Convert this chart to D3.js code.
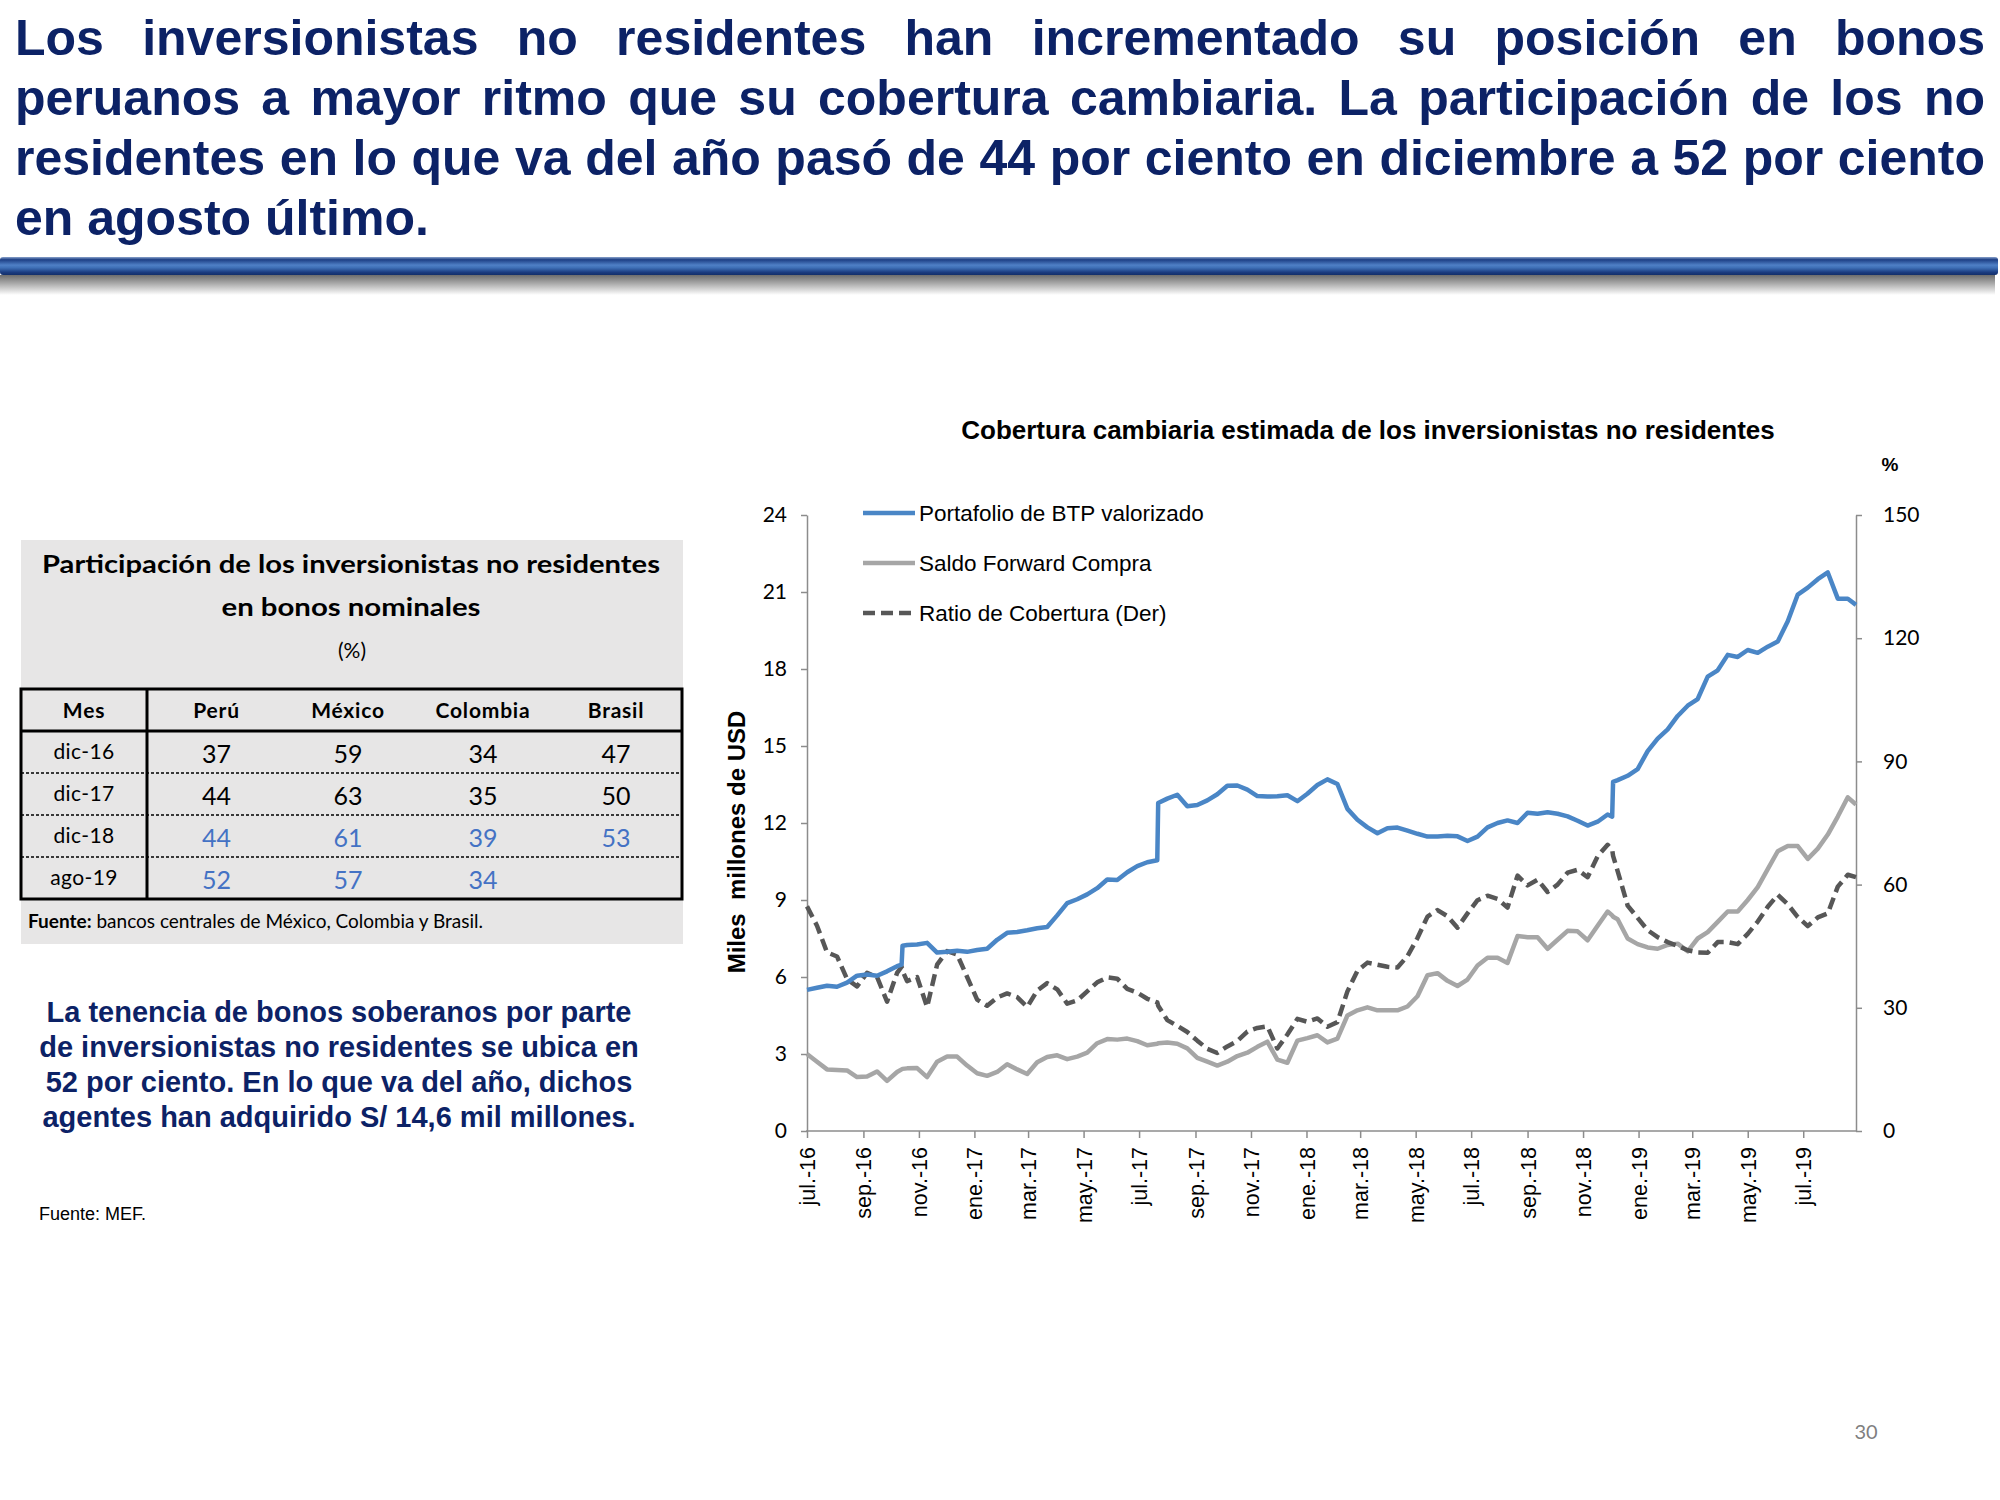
<!DOCTYPE html>
<html><head><meta charset="utf-8">
<script src="https://cdn.jsdelivr.net/npm/d3@7"></script>
<style>body{margin:0;background:#fff} svg{display:block}</style>
</head><body>
<script>
// ---------- DATA ----------
const headerLines = [
  "Los inversionistas no residentes han incrementado su posición en bonos",
  "peruanos a mayor ritmo que su cobertura cambiaria. La participación de los no",
  "residentes en lo que va del año pasó de 44 por ciento en diciembre a 52 por ciento",
  "en agosto último."
];
const noteLines = [
  "La tenencia de bonos soberanos por parte",
  "de inversionistas no residentes se ubica en",
  "52 por ciento. En lo que va del año, dichos",
  "agentes han adquirido S/ 14,6 mil millones."
];
const tableTitle = ["Participación de los inversionistas no residentes", "en bonos nominales", "(%)"];
const tableCols = ["Mes", "Perú", "México", "Colombia", "Brasil"];
const tableRows = ["dic-16", "dic-17", "dic-18", "ago-19"];
const peru = [37, 44, 44, 52];
const mexico = [59, 63, 61, 57];
const colombia = [34, 35, 39, 34];
const brasil = [47, 50, 53, null];
const projectedRows = [false, false, true, true];

const chartTitle = "Cobertura cambiaria estimada de los inversionistas no residentes";
const seriesNames = ["Portafolio de BTP valorizado", "Saldo Forward Compra", "Ratio de Cobertura (Der)"];
const leftTicks = [0, 3, 6, 9, 12, 15, 18, 21, 24];
const rightTicks = [0, 30, 60, 90, 120, 150];
const tickDates = ["2016-07-01","2016-09-01","2016-11-01","2017-01-01","2017-03-01","2017-05-01","2017-07-01","2017-09-01","2017-11-01","2018-01-01","2018-03-01","2018-05-01","2018-07-01","2018-09-01","2018-11-01","2019-01-01","2019-03-01","2019-05-01","2019-07-01"];
const tickLabels = ["jul.-16","sep.-16","nov.-16","ene.-17","mar.-17","may.-17","jul.-17","sep.-17","nov.-17","ene.-18","mar.-18","may.-18","jul.-18","sep.-18","nov.-18","ene.-19","mar.-19","may.-19","jul.-19"];

const dates = [
"2016-07-01","2016-07-12","2016-07-23","2016-08-03","2016-08-14","2016-08-25","2016-09-05","2016-09-16","2016-09-27","2016-10-08","2016-10-13","2016-10-14","2016-10-19","2016-10-30","2016-11-10","2016-11-21","2016-12-02","2016-12-13","2016-12-24",
"2017-01-04","2017-01-15","2017-01-26","2017-02-06","2017-02-17","2017-02-28","2017-03-11","2017-03-22","2017-04-02","2017-04-13","2017-04-24","2017-05-05","2017-05-16","2017-05-27","2017-06-07","2017-06-18","2017-06-29","2017-07-10","2017-07-21","2017-07-22","2017-08-01","2017-08-12","2017-08-23","2017-09-03","2017-09-14","2017-09-25","2017-10-06","2017-10-17","2017-10-28","2017-11-08","2017-11-19","2017-11-30","2017-12-11","2017-12-22",
"2018-01-02","2018-01-13","2018-01-24","2018-02-04","2018-02-15","2018-02-26","2018-03-09","2018-03-20","2018-03-31","2018-04-11","2018-04-22","2018-05-03","2018-05-14","2018-05-25","2018-06-05","2018-06-16","2018-06-27","2018-07-08","2018-07-19","2018-07-30","2018-08-10","2018-08-21","2018-09-01","2018-09-12","2018-09-23","2018-10-04","2018-10-15","2018-10-26","2018-11-06","2018-11-17","2018-11-28","2018-12-03","2018-12-04","2018-12-09","2018-12-20","2018-12-31",
"2019-01-11","2019-01-22","2019-02-02","2019-02-13","2019-02-24","2019-03-07","2019-03-18","2019-03-29","2019-04-09","2019-04-20","2019-05-01","2019-05-12","2019-05-23","2019-06-03","2019-06-14","2019-06-25","2019-07-06","2019-07-17","2019-07-28","2019-08-08","2019-08-19","2019-08-28"];

const portafolioBTP = [
5.50,5.58,5.66,5.62,5.78,6.05,6.10,6.05,6.22,6.42,6.48,7.22,7.25,7.27,7.33,6.95,6.98,7.02,6.98,
7.05,7.10,7.45,7.72,7.75,7.82,7.90,7.95,8.40,8.88,9.03,9.22,9.46,9.80,9.78,10.08,10.32,10.47,10.55,12.78,12.95,13.10,12.65,12.70,12.88,13.12,13.45,13.46,13.30,13.05,13.03,13.04,13.08,12.85,
13.14,13.48,13.70,13.52,12.55,12.13,11.83,11.60,11.80,11.82,11.70,11.58,11.47,11.47,11.50,11.48,11.30,11.47,11.83,12.00,12.10,12.00,12.40,12.36,12.42,12.36,12.26,12.09,11.90,12.05,12.33,12.25,13.60,13.67,13.84,14.10,
14.80,15.29,15.65,16.17,16.57,16.83,17.70,17.95,18.55,18.47,18.74,18.63,18.87,19.07,19.86,20.90,21.17,21.50,21.76,20.74,20.74,20.50];

const saldoForward = [
3.00,2.70,2.40,2.38,2.36,2.10,2.12,2.32,1.95,2.30,2.40,2.42,2.44,2.45,2.10,2.70,2.90,2.90,2.55,
2.25,2.15,2.30,2.60,2.40,2.22,2.68,2.88,2.95,2.80,2.90,3.05,3.42,3.58,3.56,3.60,3.50,3.34,3.40,3.42,3.45,3.40,3.22,2.85,2.70,2.55,2.70,2.92,3.05,3.28,3.48,2.78,2.66,3.52,
3.62,3.73,3.45,3.60,4.50,4.70,4.82,4.70,4.70,4.70,4.85,5.25,6.07,6.15,5.85,5.65,5.90,6.45,6.75,6.75,6.55,7.60,7.55,7.55,7.10,7.45,7.80,7.78,7.43,8.00,8.55,8.40,8.35,8.25,7.50,7.28,
7.15,7.10,7.25,7.30,7.00,7.50,7.75,8.15,8.55,8.55,9.00,9.50,10.20,10.90,11.10,11.10,10.60,11.00,11.55,12.25,13.00,12.72];

const ratioCobertura = [
54.7,50.0,43.5,42.5,37.0,35.2,38.5,37.5,31.5,38.5,40.0,39.0,36.5,37.5,30.2,40.5,43.8,43.0,37.5,
32.0,30.5,32.5,33.5,32.6,30.2,34.2,36.0,34.5,31.0,31.8,34.0,36.2,37.4,37.1,34.6,33.7,32.2,31.3,30.5,27.0,25.6,24.1,22.0,20.0,19.0,20.6,21.9,24.2,25.1,25.5,20.1,23.5,27.3,
26.6,27.4,25.4,26.5,34.0,39.0,41.0,40.5,40.0,39.8,42.6,47.0,52.2,53.8,52.3,49.5,53.0,56.2,57.3,56.5,54.4,62.2,59.8,61.2,58.2,60.0,62.9,63.6,61.8,66.9,69.7,68.5,67.0,63.3,54.9,51.9,
48.9,47.2,46.0,45.1,44.0,43.5,43.4,46.0,46.0,45.5,48.0,51.0,54.6,57.5,55.2,52.1,49.9,52.0,53.0,59.5,62.4,61.8];

// ---------- STYLE ----------
const NAVY = "#0c2266";
const ARIAL = "'Liberation Sans', Arial, sans-serif";
const CAL = "Lato, 'Open Sans', sans-serif";
const parse = d3.timeParse("%Y-%m-%d");

const svg = d3.select("body").append("svg").attr("width", 2000).attr("height", 1500);
const defs = svg.append("defs");

// ---------- HEADER ----------
headerLines.forEach((line, i) => {
  const y = 55 + i * 60;
  if (i < headerLines.length - 1) {
    const words = line.split(" ");
    const g = svg.append("g");
    const nodes = words.map(w => g.append("text").attr("y", y)
      .attr("font-family", ARIAL).attr("font-size", 50).attr("font-weight", "bold")
      .attr("fill", NAVY).text(w));
    const widths = nodes.map(n => n.node().getComputedTextLength());
    const gap = (1970 - d3.sum(widths)) / (words.length - 1);
    let x = 15;
    nodes.forEach((n, j) => { n.attr("x", x); x += widths[j] + gap; });
  } else {
    svg.append("text").attr("x", 15).attr("y", y)
      .attr("font-family", ARIAL).attr("font-size", 50).attr("font-weight", "bold")
      .attr("fill", NAVY).text(line);
  }
});

const barG = defs.append("linearGradient").attr("id", "barGrad").attr("x1", 0).attr("y1", 0).attr("x2", 0).attr("y2", 1);
[["0%", "#8aa3cc"], ["15%", "#1d3f85"], ["45%", "#4f80c6"], ["60%", "#3e6fb6"], ["85%", "#1b3c80"], ["100%", "#132f6a"]]
  .forEach(s => barG.append("stop").attr("offset", s[0]).attr("stop-color", s[1]));
const shG = defs.append("linearGradient").attr("id", "shGrad").attr("x1", 0).attr("y1", 0).attr("x2", 0).attr("y2", 1);
[["0%", "#6d6d6d"], ["50%", "#b5b5b5"], ["100%", "#ffffff"]]
  .forEach(s => shG.append("stop").attr("offset", s[0]).attr("stop-color", s[1]));
svg.append("rect").attr("x", 0).attr("y", 275).attr("width", 1995).attr("height", 20).attr("fill", "url(#shGrad)");
svg.append("rect").attr("x", 0).attr("y", 257).attr("width", 1998).attr("height", 18).attr("rx", 3).attr("fill", "url(#barGrad)");

// ---------- TABLE ----------
svg.append("rect").attr("x", 21).attr("y", 540).attr("width", 662).attr("height", 404).attr("fill", "#e7e6e6");
svg.append("text").attr("x", 351).attr("y", 573).attr("text-anchor", "middle")
  .attr("font-family", CAL).attr("font-weight", "bold").attr("font-size", 25)
  .attr("textLength", 618).attr("lengthAdjust", "spacingAndGlyphs").text(tableTitle[0]);
svg.append("text").attr("x", 351).attr("y", 616).attr("text-anchor", "middle")
  .attr("font-family", CAL).attr("font-weight", "bold").attr("font-size", 25)
  .attr("textLength", 259).attr("lengthAdjust", "spacingAndGlyphs").text(tableTitle[1]);
svg.append("text").attr("x", 352).attr("y", 658).attr("text-anchor", "middle")
  .attr("font-family", CAL).attr("font-size", 21).text(tableTitle[2]);

const tX0 = 21, tX1 = 682, tY0 = 689, hdrY = 731, rowH = 42;
const colX = [84, 216.5, 348, 483, 616];
const tab = svg.append("g");
tab.append("rect").attr("x", tX0).attr("y", tY0).attr("width", tX1 - tX0).attr("height", 210)
  .attr("fill", "none").attr("stroke", "#000").attr("stroke-width", 3);
tab.append("line").attr("x1", tX0).attr("x2", tX1).attr("y1", hdrY).attr("y2", hdrY).attr("stroke", "#000").attr("stroke-width", 3);
tab.append("line").attr("x1", 147).attr("x2", 147).attr("y1", tY0).attr("y2", 899).attr("stroke", "#000").attr("stroke-width", 3);
[1, 2, 3].forEach(r => tab.append("line").attr("x1", tX0).attr("x2", tX1)
  .attr("y1", hdrY + r * rowH).attr("y2", hdrY + r * rowH)
  .attr("stroke", "#000").attr("stroke-width", 1.6).attr("stroke-dasharray", "3,2"));
tableCols.forEach((c, i) => tab.append("text").attr("x", colX[i]).attr("y", 718).attr("text-anchor", "middle")
  .attr("font-family", CAL).attr("font-weight", "bold").attr("font-size", 21).attr("letter-spacing", 0.8).text(c));
const cols = [peru, mexico, colombia, brasil];
tableRows.forEach((r, ri) => {
  const base = hdrY + ri * rowH;
  tab.append("text").attr("x", colX[0]).attr("y", base + 28).attr("text-anchor", "middle")
    .attr("font-family", CAL).attr("font-size", 21).attr("letter-spacing", 0.4).text(r);
  cols.forEach((col, ci) => {
    if (col[ri] == null) return;
    tab.append("text").attr("x", colX[ci + 1]).attr("y", base + 32).attr("text-anchor", "middle")
      .attr("font-family", CAL).attr("font-size", 25)
      .attr("fill", projectedRows[ri] ? "#4472c4" : "#000").text(col[ri]);
  });
});
const fu = svg.append("text").attr("x", 28).attr("y", 928).attr("font-family", CAL).attr("font-size", 19);
fu.append("tspan").attr("font-weight", "bold").text("Fuente:");
fu.append("tspan").text(" bancos centrales de México, Colombia y Brasil.");

// ---------- NOTE ----------
noteLines.forEach((l, i) => svg.append("text").attr("x", 339).attr("y", 1022 + i * 35)
  .attr("text-anchor", "middle").attr("font-family", ARIAL).attr("font-weight", "bold")
  .attr("font-size", 29).attr("fill", NAVY).text(l));
svg.append("text").attr("x", 39).attr("y", 1220).attr("font-family", ARIAL).attr("font-size", 18).text("Fuente: MEF.");
svg.append("text").attr("x", 1866).attr("y", 1439).attr("text-anchor", "middle")
  .attr("font-family", CAL).attr("font-size", 20).attr("fill", "#7f7f7f").text("30");

// ---------- CHART ----------
const x = d3.scaleTime().domain([parse("2016-07-01"), parse("2019-08-28")]).range([807, 1856]);
const yL = d3.scaleLinear().domain([0, 24]).range([1131, 515]);
const yR = d3.scaleLinear().domain([0, 150]).range([1131, 515]);
const pts = dates.map((d, i) => ({ d: parse(d), btp: portafolioBTP[i], fwd: saldoForward[i], r: ratioCobertura[i] }));

svg.append("text").attr("x", 1368).attr("y", 439).attr("text-anchor", "middle")
  .attr("font-family", ARIAL).attr("font-weight", "bold").attr("font-size", 26).text(chartTitle);
svg.append("text").attr("x", 1890).attr("y", 471).attr("text-anchor", "middle")
  .attr("font-family", ARIAL).attr("font-weight", "bold").attr("font-size", 19).text("%");
svg.append("text").attr("transform", "translate(745,842) rotate(-90)").attr("text-anchor", "middle")
  .attr("font-family", ARIAL).attr("font-weight", "bold").attr("font-size", 24)
  .style("white-space", "pre").text("Miles  millones de USD");

function styleAxis(g) {
  g.select(".domain").attr("stroke", "#8c8c8c").attr("stroke-width", 1.5);
  g.selectAll(".tick line").attr("stroke", "#8c8c8c").attr("stroke-width", 1.5);
  g.selectAll("text").attr("fill", "#000");
}
const axL = svg.append("g").attr("transform", "translate(807,0)")
  .call(d3.axisLeft(yL).tickValues(leftTicks).tickSize(6).tickSizeOuter(0).tickPadding(14));
axL.selectAll("text").attr("font-family", CAL).attr("font-size", 21);
styleAxis(axL);
const axR = svg.append("g").attr("transform", "translate(1856,0)")
  .call(d3.axisRight(yR).tickValues(rightTicks).tickSize(6).tickSizeOuter(0).tickPadding(21));
axR.selectAll("text").attr("font-family", CAL).attr("font-size", 21);
styleAxis(axR);
const axB = svg.append("g").attr("transform", "translate(0,1131)")
  .call(d3.axisBottom(x).tickValues(tickDates.map(parse)).tickSize(7).tickSizeOuter(0)
    .tickFormat((d, i) => tickLabels[i]));
axB.select(".domain").attr("d", "M806,0H1856");
axB.selectAll("text").attr("font-family", ARIAL).attr("font-size", 21.5)
  .attr("transform", "rotate(-90)").attr("text-anchor", "end")
  .attr("x", -16).attr("y", 0).attr("dy", "0.35em");
styleAxis(axB);

const lineBTP = d3.line().x(p => x(p.d)).y(p => yL(p.btp));
const lineFwd = d3.line().x(p => x(p.d)).y(p => yL(p.fwd));
const lineR = d3.line().x(p => x(p.d)).y(p => yR(p.r));
const plot = svg.append("g").attr("fill", "none").attr("stroke-linejoin", "round");
plot.append("path").datum(pts).attr("d", lineFwd).attr("stroke", "#a6a6a6").attr("stroke-width", 4.5);
plot.append("path").datum(pts).attr("d", lineR).attr("stroke", "#575757").attr("stroke-width", 4.5).attr("stroke-dasharray", "12,6");
plot.append("path").datum(pts).attr("d", lineBTP).attr("stroke", "#4a86c6").attr("stroke-width", 4.5);

// legend
const legStyles = [{ c: "#4a86c6", dash: null }, { c: "#a6a6a6", dash: null }, { c: "#575757", dash: "12,6" }];
seriesNames.forEach((n, i) => {
  const ly = 513 + i * 50;
  svg.append("line").attr("x1", 863).attr("x2", 915).attr("y1", ly).attr("y2", ly)
    .attr("stroke", legStyles[i].c).attr("stroke-width", 4.5).attr("stroke-dasharray", legStyles[i].dash);
  svg.append("text").attr("x", 919).attr("y", ly).attr("dy", "0.35em")
    .attr("font-family", ARIAL).attr("font-size", 22.5).text(n);
});
</script>
</body></html>
